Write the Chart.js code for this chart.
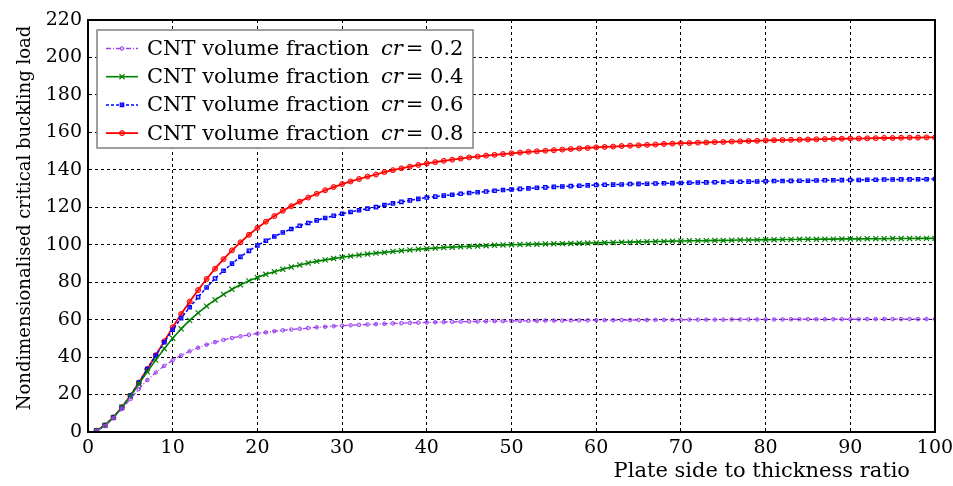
<!DOCTYPE html>
<html>
<head>
<meta charset="utf-8">
<script src="https://cdn.jsdelivr.net/npm/chart.js@4/dist/chart.umd.min.js"></script>
<style>
  html,body{margin:0;padding:0;background:#fff;}
  #wrap{width:953px;height:486px;position:relative;}
</style>
</head>
<body>
<div id="wrap"><canvas id="chart" width="953" height="486"></canvas></div>
<script>
// plate side to thickness ratio (x)
const ratios=[1,2,3,4,5,6,7,8,9,10,11,12,13,14,15,16,17,18,19,20,
  21,22,23,24,25,26,27,28,29,30,31,32,33,34,35,36,37,38,39,40,
  41,42,43,44,45,46,47,48,49,50,51,52,53,54,55,56,57,58,59,60,
  61,62,63,64,65,66,67,68,69,70,71,72,73,74,75,76,77,78,79,80,
  81,82,83,84,85,86,87,88,89,90,91,92,93,94,95,96,97,98,99,100];

const cr02=[0.4,3.2,7.3,12.3,17.6,22.9,27.7,31.8,35.3,38.3,40.9,43.1,45.0,46.6,48.0,49.2,50.2,51.1,51.9,52.6,
  53.2,53.8,54.3,54.7,55.1,55.5,55.9,56.2,56.5,56.8,57.0,57.2,57.4,57.6,57.8,58.0,58.1,58.3,58.4,58.5,
  58.6,58.7,58.8,58.9,59.0,59.0,59.1,59.2,59.2,59.3,59.3,59.4,59.4,59.5,59.5,59.5,59.6,59.6,59.6,59.7,
  59.7,59.7,59.8,59.8,59.8,59.8,59.9,59.9,59.9,59.9,60.0,60.0,60.0,60.0,60.0,60.1,60.1,60.1,60.1,60.1,
  60.1,60.1,60.2,60.2,60.2,60.2,60.2,60.2,60.2,60.2,60.2,60.3,60.3,60.3,60.3,60.3,60.3,60.3,60.3,60.3];

const cr04=[0.7,3.6,7.8,13.2,19.0,25.6,32.2,38.4,44.5,50.1,55.1,59.6,63.6,67.2,70.5,73.5,76.2,78.6,80.7,82.5,
  84.2,85.6,86.9,88.1,89.2,90.2,91.1,91.9,92.6,93.3,93.9,94.5,95.0,95.5,95.9,96.4,96.8,97.2,97.6,97.9,
  98.2,98.5,98.7,98.9,99.1,99.3,99.5,99.7,99.9,100.0,100.1,100.2,100.3,100.4,100.5,100.6,100.7,100.8,100.9,101.0,
  101.1,101.2,101.3,101.4,101.5,101.6,101.7,101.8,101.9,102.0,102.1,102.1,102.2,102.3,102.3,102.4,102.5,102.5,102.6,102.7,
  102.7,102.8,102.8,102.9,102.9,102.9,103.0,103.0,103.1,103.1,103.1,103.2,103.2,103.2,103.3,103.3,103.3,103.4,103.4,103.4];

const cr06=[0.7,3.6,7.9,13.3,19.4,26.4,33.6,40.8,47.9,54.6,60.8,66.6,72.0,77.2,82.0,86.1,89.9,93.5,96.7,99.6,
  102.1,104.4,106.5,108.4,110.1,111.6,113.0,114.3,115.5,116.5,117.5,118.4,119.3,120.1,121.2,122.1,122.9,123.7,124.5,125.2,
  125.7,126.2,126.7,127.2,127.6,128.0,128.4,128.8,129.2,129.5,129.8,130.1,130.4,130.6,130.9,131.1,131.3,131.5,131.7,131.9,
  132.0,132.1,132.2,132.4,132.5,132.6,132.7,132.8,132.9,133.0,133.1,133.2,133.3,133.4,133.5,133.6,133.6,133.7,133.8,133.9,
  134.0,134.0,134.1,134.2,134.2,134.3,134.4,134.4,134.5,134.6,134.6,134.7,134.7,134.8,134.8,134.9,134.9,135.0,135.0,135.1];

const cr08=[0.7,3.6,7.8,13.2,19.3,26.3,33.6,41.0,48.4,55.9,63.0,69.6,75.8,81.7,87.2,92.3,97.0,101.3,105.3,109.0,
  112.3,115.3,118.1,120.6,123.0,125.2,127.2,129.1,130.8,132.4,133.8,135.1,136.4,137.5,138.8,139.8,140.8,141.7,142.6,143.4,
  144.1,144.8,145.4,146.0,146.6,147.1,147.6,148.0,148.4,148.8,149.2,149.6,149.9,150.2,150.5,150.8,151.1,151.4,151.7,152.0,
  152.2,152.4,152.7,152.9,153.1,153.3,153.5,153.8,154.0,154.2,154.3,154.5,154.6,154.8,154.9,155.1,155.2,155.4,155.5,155.7,
  155.8,155.9,156.0,156.1,156.2,156.3,156.4,156.5,156.6,156.7,156.7,156.8,156.9,157.0,157.0,157.1,157.2,157.2,157.3,157.3];

const seriesNames=['0.2','0.4','0.6','0.8'];
const xTitle='Plate side to thickness ratio';
const yTitle='Nondimensionalised critical buckling load';

const FONT='"DejaVu Serif", "Liberation Serif", serif';

function pts(vals){return ratios.map((x,i)=>({x:x,y:vals[i]}));}

const datasets=[
  {label:seriesNames[0],data:pts(cr02),borderColor:'#9a40f0',backgroundColor:'rgba(154,64,240,0.25)',
   borderWidth:1.3,borderDash:[5,2,1,2],pointStyle:'circle',pointRadius:1.8,pointBorderWidth:1},
  {label:seriesNames[1],data:pts(cr04),borderColor:'#008000',backgroundColor:'#008000',
   borderWidth:1.6,pointStyle:'crossRot',pointRadius:3.6,pointBorderWidth:1.2},
  {label:seriesNames[2],data:pts(cr06),borderColor:'#0000ff',backgroundColor:'rgba(0,0,255,0.3)',
   borderWidth:1.5,borderDash:[3,2],pointStyle:'rect',pointRadius:2.4,pointBorderWidth:1.2},
  {label:seriesNames[3],data:pts(cr08),borderColor:'#ff0000',backgroundColor:'rgba(255,0,0,0.45)',
   borderWidth:1.8,pointStyle:'circle',pointRadius:2.5,pointBorderWidth:1}
];

const decor={
  id:'decor',
  afterDraw(chart){
    const ctx=chart.ctx, a=chart.chartArea;
    ctx.save();
    // frame
    ctx.strokeStyle='#000';ctx.lineWidth=2;ctx.setLineDash([]);
    ctx.strokeRect(a.left,a.top,a.right-a.left,a.bottom-a.top);
    // axis titles
    ctx.fillStyle='#000';
    ctx.font='21px '+FONT;
    ctx.textAlign='right';ctx.textBaseline='alphabetic';
    ctx.fillText(xTitle,a.right-25,477);
    ctx.save();
    ctx.translate(30,(a.top+a.bottom)/2-8);
    ctx.rotate(-Math.PI/2);
    ctx.textAlign='center';
    ctx.font='18px '+FONT;
    ctx.fillText(yTitle,0,0);
    ctx.restore();
    // legend
    const bx=a.left+9,by=a.top+10,bw=376,bh=118;
    ctx.fillStyle='#fff';ctx.fillRect(bx,by,bw,bh);
    ctx.strokeStyle='#808080';ctx.lineWidth=1.5;ctx.strokeRect(bx,by,bw,bh);
    chart.data.datasets.forEach((ds,i)=>{
      const y=by+18.5+i*28.2;
      ctx.save();
      ctx.strokeStyle=ds.borderColor;ctx.lineWidth=ds.borderWidth;
      ctx.setLineDash(ds.borderDash||[]);
      ctx.beginPath();ctx.moveTo(bx+9,y);ctx.lineTo(bx+41,y);ctx.stroke();
      ctx.setLineDash([]);
      ctx.fillStyle=ds.backgroundColor;ctx.lineWidth=ds.pointBorderWidth;
      Chart.helpers.drawPoint(ctx,{pointStyle:ds.pointStyle,radius:ds.pointRadius,borderWidth:ds.pointBorderWidth,rotation:0},bx+25,y);
      ctx.restore();
      ctx.fillStyle='#000';ctx.textAlign='left';ctx.textBaseline='middle';
      let x=bx+50;
      ctx.font='21px '+FONT;
      const t1='CNT volume fraction ';
      ctx.fillText(t1,x,y+1);x+=ctx.measureText(t1).width+5;
      ctx.font='italic 21px '+FONT;
      ctx.fillText('cr',x,y+1);x+=ctx.measureText('cr').width+3;
      ctx.font='21px '+FONT;
      ctx.fillText('= '+ds.label,x,y+1);
    });
    ctx.restore();
  }
};

new Chart(document.getElementById('chart'),{
  type:'line',
  data:{datasets:datasets},
  options:{
    responsive:false,animation:false,
    layout:{padding:{top:20,right:18,left:0,bottom:0}},
    plugins:{legend:{display:false},tooltip:{enabled:false}},
    elements:{line:{tension:0}},
    scales:{
      x:{type:'linear',min:0,max:100,
        afterFit(s){s.height=54;s.paddingRight=0;s.paddingLeft=0;},
        ticks:{stepSize:10,autoSkip:false,maxRotation:0,padding:5,color:'#000',font:{family:FONT,size:19}},
        grid:{color:'#000',lineWidth:1,drawTicks:false},
        border:{display:true,color:'#000',width:2,dash:[3,3]}
      },
      y:{min:0,max:220,
        afterFit(s){s.width=88;s.paddingTop=0;s.paddingBottom=0;},
        ticks:{stepSize:20,autoSkip:false,padding:6,color:'#000',font:{family:FONT,size:19}},
        grid:{color:'#000',lineWidth:1,drawTicks:false},
        border:{display:true,color:'#000',width:2,dash:[3,3]}
      }
    }
  },
  plugins:[decor]
});
</script>
</body>
</html>
